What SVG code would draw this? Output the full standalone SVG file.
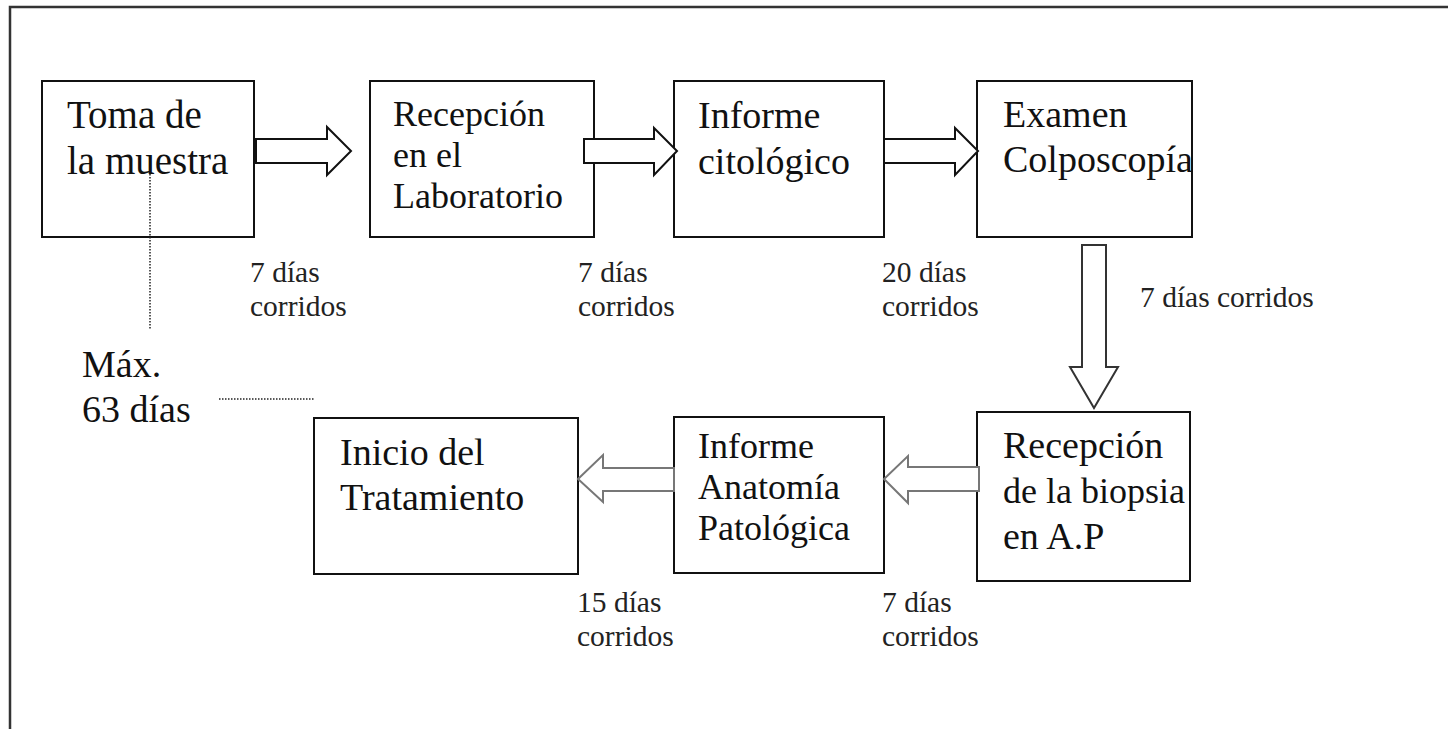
<svg xmlns="http://www.w3.org/2000/svg" width="1448" height="729" viewBox="0 0 1448 729">
<style>
.box{fill:#fff;stroke:#111;stroke-width:2}
.t{font-family:"Liberation Serif","Times New Roman",serif;font-size:38px;fill:#111}
.t36{font-size:36px}
.t39{font-size:39px}
.s{font-family:"Liberation Serif","Times New Roman",serif;font-size:29.5px;fill:#222}
.ar{fill:#fff;stroke:#111;stroke-width:2;stroke-linejoin:miter}
.al{fill:#fff;stroke:#777;stroke-width:2;stroke-linejoin:miter}
.dot{stroke:#222;stroke-width:1.5;stroke-dasharray:1.5 1.5;fill:none}
</style>
<rect width="1448" height="729" fill="#fff"/>
<path d="M10 729 V7 H1448" fill="none" stroke="#333" stroke-width="2.5"/>

<g id="n1"><rect class="box" x="42" y="81" width="212" height="156"/>
<text class="t t39" x="67" y="128">Toma de</text><text class="t t39" x="67" y="174">la muestra</text></g>
<g id="n2"><rect class="box" x="370" y="81" width="224" height="156"/>
<text class="t t36" x="393" y="126">Recepción</text><text class="t t36" x="393" y="167">en el</text><text class="t t36" x="393" y="208">Laboratorio</text></g>
<g id="n3"><rect class="box" x="674" y="81" width="210" height="156"/>
<text class="t" x="698" y="128">Informe</text><text class="t" x="698" y="174">citológico</text></g>
<g id="n4"><rect class="box" x="977" y="81" width="215" height="156"/>
<text class="t" x="1003" y="127">Examen</text><text class="t" x="1003" y="172">Colposcopía</text></g>
<g id="n5"><rect class="box" x="977" y="412" width="213" height="169"/>
<text class="t" x="1003" y="458">Recepción</text><text class="t t36" x="1003" y="503">de la biopsia</text><text class="t" x="1003" y="549">en A.P</text></g>
<g id="n6"><rect class="box" x="674" y="417" width="210" height="156"/>
<text class="t t36" x="698" y="458">Informe</text><text class="t t36" x="698" y="499">Anatomía</text><text class="t t36" x="698" y="540">Patológica</text></g>
<g id="n7"><rect class="box" x="314" y="418" width="264" height="156"/>
<text class="t" x="340" y="465">Inicio del</text><text class="t" x="340" y="510">Tratamiento</text></g>

<g id="connectors">
<polygon class="ar" points="256,139 327,139 327,127 351,151 327,175 327,163 256,163"/>
<polygon class="ar" points="584,139 654,139 654,128 677,151 654,175 654,163 584,163"/>
<polygon class="ar" points="884,139 955,139 955,128 978,151 955,175 955,163 884,163"/>
<polygon class="ar" points="1082,245 1106,245 1106,367 1118,367 1094,408 1070,367 1082,367" style="stroke:#333"/>
<polygon class="al" points="979,467 908,467 908,456 884,479 908,503 908,491 979,491"/>
<polygon class="al" points="674,468 603,468 603,455 578,479 603,502 603,491 674,491"/>
<line class="dot" x1="150" y1="174" x2="150" y2="330"/>
<line class="dot" x1="219" y1="399" x2="315" y2="399"/>
</g>

<g id="labels">
<text class="s" x="250" y="282">7 días</text><text class="s" x="250" y="316">corridos</text>
<text class="s" x="578" y="282">7 días</text><text class="s" x="578" y="316">corridos</text>
<text class="s" x="882" y="282">20 días</text><text class="s" x="882" y="316">corridos</text>
<text class="s" x="1140" y="307">7 días corridos</text>
<text class="s" x="577" y="612">15 días</text><text class="s" x="577" y="646">corridos</text>
<text class="s" x="882" y="612">7 días</text><text class="s" x="882" y="646">corridos</text>
<text class="t" x="82" y="377">Máx.</text><text class="t" x="82" y="422">63 días</text>
</g>
</svg>
